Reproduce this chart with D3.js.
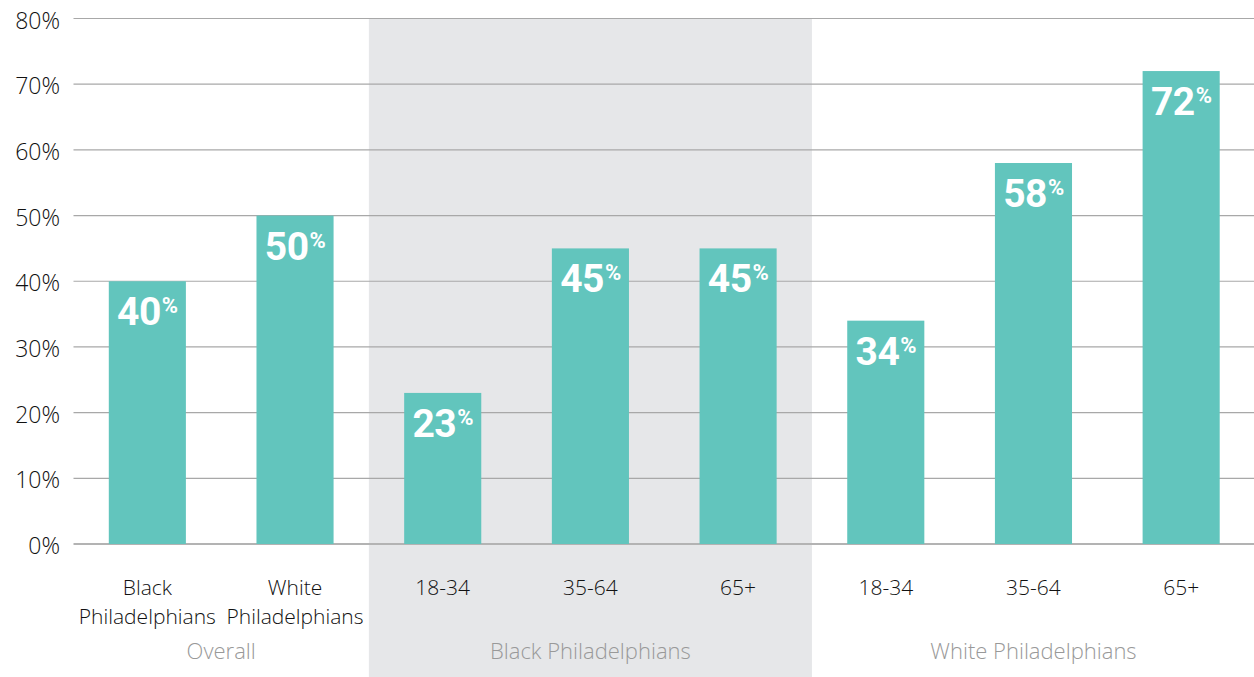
<!DOCTYPE html>
<html>
<head>
<meta charset="utf-8">
<script src="https://cdn.jsdelivr.net/npm/d3@7"></script>
<style>
  body { margin: 0; background: #fff; }
  svg { display: block; font-family: "Open Sans", Lato, sans-serif; font-weight: 300; }
</style>
</head>
<body>
<section id="grafico"></section>
<script>
// data
const categories = ["b_all", "w_all", "b_18", "b_35", "b_65", "w_18", "w_35", "w_65"];
const catLabels = [["Black", "Philadelphians"], ["White", "Philadelphians"], ["18-34"], ["35-64"], ["65+"], ["18-34"], ["35-64"], ["65+"]];
const values = [40, 50, 23, 45, 45, 34, 58, 72];
const groups = ["Overall", "Black Philadelphians", "White Philadelphians"];
const groupMembers = [[0, 1], [2, 3, 4], [5, 6, 7]];
const yTicks = [0, 10, 20, 30, 40, 50, 60, 70, 80];

const width = 1254;
const height = 677;
const plotLeft = 73.5;
const plotTop = 18.5;
const plotBottom = 544;

const svg = d3.select("section#grafico")
    .append("svg")
    .attr("width", width)
    .attr("height", height);

const xScale = d3.scaleBand()
    .domain(categories)
    .range([plotLeft, 1255])
    .paddingInner(0.478)
    .paddingOuter(0.239);

const yScale = d3.scaleLinear()
    .domain([0, 80])
    .range([plotBottom, plotTop]);

// shaded middle group
const step = xScale.step();
const bandStart = c => xScale(c) - xScale.paddingInner() * step / 2;
svg.append("rect")
    .attr("x", bandStart(categories[2]))
    .attr("y", plotTop)
    .attr("width", step * 3)
    .attr("height", height - plotTop)
    .attr("fill", "#e6e7e9");

// grid
svg.append("g")
    .selectAll("line")
    .data(yTicks)
    .enter()
    .append("line")
    .attr("x1", plotLeft)
    .attr("x2", width)
    .attr("y1", d => yScale(d))
    .attr("y2", d => yScale(d))
    .attr("stroke", d => d === 0 ? "#b3b3b3" : "#a8a8a8")
    .attr("stroke-width", d => d === 0 ? 2 : 1.2);

// y labels
svg.append("g")
    .selectAll("text")
    .data(yTicks)
    .enter()
    .append("text")
    .attr("x", 60)
    .attr("y", d => yScale(d) + 4)
    .attr("text-anchor", "end")
    .attr("dominant-baseline", "middle")
    .attr("font-size", 23)
    .attr("fill", "#111")
    .text(d => d + "%");

// bars
svg.selectAll("rect.bar")
    .data(values)
    .enter()
    .append("rect")
    .attr("class", "bar")
    .attr("x", (d, i) => xScale(categories[i]))
    .attr("y", d => yScale(d))
    .attr("width", xScale.bandwidth())
    .attr("height", d => plotBottom - yScale(d))
    .attr("fill", "#62c5bd");

// value labels
const vl = svg.append("g")
    .selectAll("text")
    .data(values)
    .enter()
    .append("text")
    .attr("x", (d, i) => xScale(categories[i]) + xScale.bandwidth() / 2)
    .attr("y", d => yScale(d) + 44)
    .attr("text-anchor", "middle")
    .attr("fill", "#fff")
    .attr("font-family", "Roboto, 'Liberation Sans', sans-serif")
    .attr("font-weight", "bold")
    .attr("font-size", 39)
    .attr("letter-spacing", -0.5);
vl.append("tspan").text(d => d);
vl.append("tspan")
    .attr("font-size", 22)
    .attr("dy", -12)
    .attr("dx", 1)
    .text("%");

// category labels
const cl = svg.append("g")
    .selectAll("text")
    .data(catLabels)
    .enter()
    .append("text")
    .attr("x", (d, i) => xScale(categories[i]) + xScale.bandwidth() / 2)
    .attr("y", 595)
    .attr("text-anchor", "middle")
    .attr("font-size", 21)
    .attr("fill", "#111");
cl.selectAll("tspan")
    .data(d => d)
    .enter()
    .append("tspan")
    .attr("x", function () { return this.parentNode.getAttribute("x"); })
    .attr("dy", (d, i) => i === 0 ? 0 : 29)
    .text(d => d);

// group labels
svg.append("g")
    .selectAll("text")
    .data(groups)
    .enter()
    .append("text")
    .attr("x", (d, i) => {
        const m = groupMembers[i];
        const a = xScale(categories[m[0]]);
        const b = xScale(categories[m[m.length - 1]]) + xScale.bandwidth();
        return (a + b) / 2;
    })
    .attr("y", 659)
    .attr("text-anchor", "middle")
    .attr("font-size", 22)
    .attr("fill", "#999")
    .text(d => d);
</script>
</body>
</html>
